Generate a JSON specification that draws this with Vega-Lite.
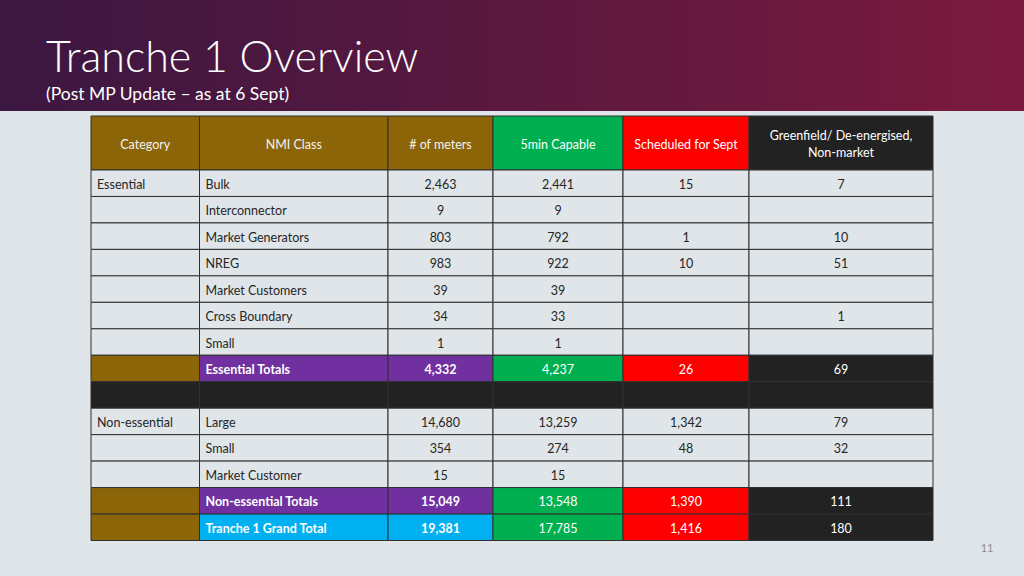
{
  "$schema": "https://vega.github.io/schema/vega-lite/v6.json",
  "width": 1024,
  "height": 576,
  "autosize": {"type": "none"},
  "padding": 0,
  "background": "#dfe5e8",
  "config": {"view": {"stroke": null}},
  "title": {
    "text": "Tranche 1 Overview",
    "subtitle": "(Post MP Update – as at 6 Sept)",
    "anchor": "start",
    "frame": "group",
    "orient": "top",
    "offset": -103,
    "dx": 46,
    "font": "Lato",
    "fontSize": 43,
    "fontWeight": 300,
    "color": "#ffffff",
    "subtitleFont": "Lato",
    "subtitleFontSize": 17.5,
    "subtitleFontWeight": 400,
    "subtitleColor": "#ffffff",
    "subtitlePadding": 5
  },
  "datasets": {
    "table": [
      {"row": 0, "type": "header", "category": "Category", "nmi": "NMI Class", "meters": "# of meters", "capable": "5min Capable", "scheduled": "Scheduled for Sept", "other": "Greenfield/ De-energised,\nNon-market"},
      {"row": 1, "type": "body", "category": "Essential", "nmi": "Bulk", "meters": "2,463", "capable": "2,441", "scheduled": "15", "other": "7"},
      {"row": 2, "type": "body", "category": "", "nmi": "Interconnector", "meters": "9", "capable": "9", "scheduled": "", "other": ""},
      {"row": 3, "type": "body", "category": "", "nmi": "Market Generators", "meters": "803", "capable": "792", "scheduled": "1", "other": "10"},
      {"row": 4, "type": "body", "category": "", "nmi": "NREG", "meters": "983", "capable": "922", "scheduled": "10", "other": "51"},
      {"row": 5, "type": "body", "category": "", "nmi": "Market Customers", "meters": "39", "capable": "39", "scheduled": "", "other": ""},
      {"row": 6, "type": "body", "category": "", "nmi": "Cross Boundary", "meters": "34", "capable": "33", "scheduled": "", "other": "1"},
      {"row": 7, "type": "body", "category": "", "nmi": "Small", "meters": "1", "capable": "1", "scheduled": "", "other": ""},
      {"row": 8, "type": "subtotal", "category": "", "nmi": "Essential Totals", "meters": "4,332", "capable": "4,237", "scheduled": "26", "other": "69"},
      {"row": 9, "type": "spacer", "category": "", "nmi": "", "meters": "", "capable": "", "scheduled": "", "other": ""},
      {"row": 10, "type": "body", "category": "Non-essential", "nmi": "Large", "meters": "14,680", "capable": "13,259", "scheduled": "1,342", "other": "79"},
      {"row": 11, "type": "body", "category": "", "nmi": "Small", "meters": "354", "capable": "274", "scheduled": "48", "other": "32"},
      {"row": 12, "type": "body", "category": "", "nmi": "Market Customer", "meters": "15", "capable": "15", "scheduled": "", "other": ""},
      {"row": 13, "type": "subtotal", "category": "", "nmi": "Non-essential Totals", "meters": "15,049", "capable": "13,548", "scheduled": "1,390", "other": "111"},
      {"row": 14, "type": "grand", "category": "", "nmi": "Tranche 1 Grand Total", "meters": "19,381", "capable": "17,785", "scheduled": "1,416", "other": "180"}
    ]
  },
  "layer": [
    {
      "data": {"values": [{}]},
      "mark": {
        "type": "rect",
        "x": 0, "x2": 1024, "y": 0, "y2": 111,
        "fill": {"gradient": "linear", "x1": 0, "y1": 0, "x2": 1, "y2": 0,
          "stops": [{"offset": 0, "color": "#3b1741"}, {"offset": 1, "color": "#7b1a3d"}]}
      },
      "encoding": {}
    },
    {
      "data": {"name": "table"},
      "transform": [
        {"fold": ["category", "nmi", "meters", "capable", "scheduled", "other"], "as": ["col", "t"]},
        {"calculate": "indexof(['category','nmi','meters','capable','scheduled','other'], datum.col)", "as": "c"},
        {"calculate": "datum.c + 1", "as": "c1"},
        {"calculate": "datum.row + 1", "as": "r1"},
        {"calculate": "datum.row + 0.5", "as": "rm"},
        {"calculate": "(datum.type != 'header' && datum.c < 2) ? datum.c : datum.c + 0.5", "as": "tx"},
        {"calculate": "datum.type == 'header' ? ['brown','brown','brown','green','red','dark'][datum.c] : datum.type == 'body' ? 'plain' : datum.type == 'spacer' ? 'dark' : datum.type == 'subtotal' ? ['brown','purple','purple','green','red','dark'][datum.c] : ['brown','cyan','cyan','green','red','dark'][datum.c]", "as": "kind"}
      ],
      "layer": [
        {
          "mark": {"type": "rect", "stroke": "#303030", "strokeWidth": 1, "opacity": 1},
          "encoding": {
            "x": {"field": "c", "type": "quantitative", "axis": null,
              "scale": {"domain": [0, 1, 2, 3, 4, 5, 6], "range": [91, 199.5, 388, 493, 623, 749, 933], "nice": false, "zero": false}},
            "x2": {"field": "c1"},
            "y": {"field": "row", "type": "quantitative", "axis": null,
              "scale": {"domain": [0, 1, 15], "range": [116, 170, 540.5], "nice": false, "zero": false}},
            "y2": {"field": "r1"},
            "fill": {"field": "kind", "type": "nominal", "legend": null,
              "scale": {"domain": ["plain", "brown", "green", "red", "dark", "purple", "cyan"],
                "range": ["#dfe5e8", "#8b6508", "#00b050", "#ff0000", "#222222", "#7030a0", "#00b0f0"]}}
          }
        },
        {
          "mark": {
            "type": "text",
            "font": "Lato",
            "fontSize": 12.5,
            "baseline": "middle",
            "lineBreak": "\n",
            "lineHeight": 17,
            "align": {"expr": "(datum.type != 'header' && datum.c < 2) ? 'left' : 'center'"},
            "dx": {"expr": "(datum.type != 'header' && datum.c < 2) ? 6 : 0"},
            "dy": {"expr": "(datum.type == 'header' && datum.c == 5) ? -7.5 : 1.5"},
            "fontWeight": {"expr": "(datum.kind == 'purple' || datum.kind == 'cyan') ? 'bold' : 'normal'"}
          },
          "encoding": {
            "x": {"field": "tx", "type": "quantitative"},
            "y": {"field": "rm", "type": "quantitative"},
            "text": {"field": "t"},
            "color": {"field": "kind", "type": "nominal", "legend": null,
              "scale": {"domain": ["plain", "brown", "green", "red", "dark", "purple", "cyan"],
                "range": ["#262626", "#f2f2f2", "#ffffff", "#ffffff", "#ffffff", "#ffffff", "#ffffff"]}}
          }
        }
      ]
    },
    {
      "data": {"values": [{"page": "11"}]},
      "mark": {"type": "text", "x": 987, "y": 549, "align": "center", "baseline": "middle", "font": "Lato", "fontSize": 11, "color": "#8c8c8c"},
      "encoding": {"text": {"field": "page"}}
    }
  ]
}
